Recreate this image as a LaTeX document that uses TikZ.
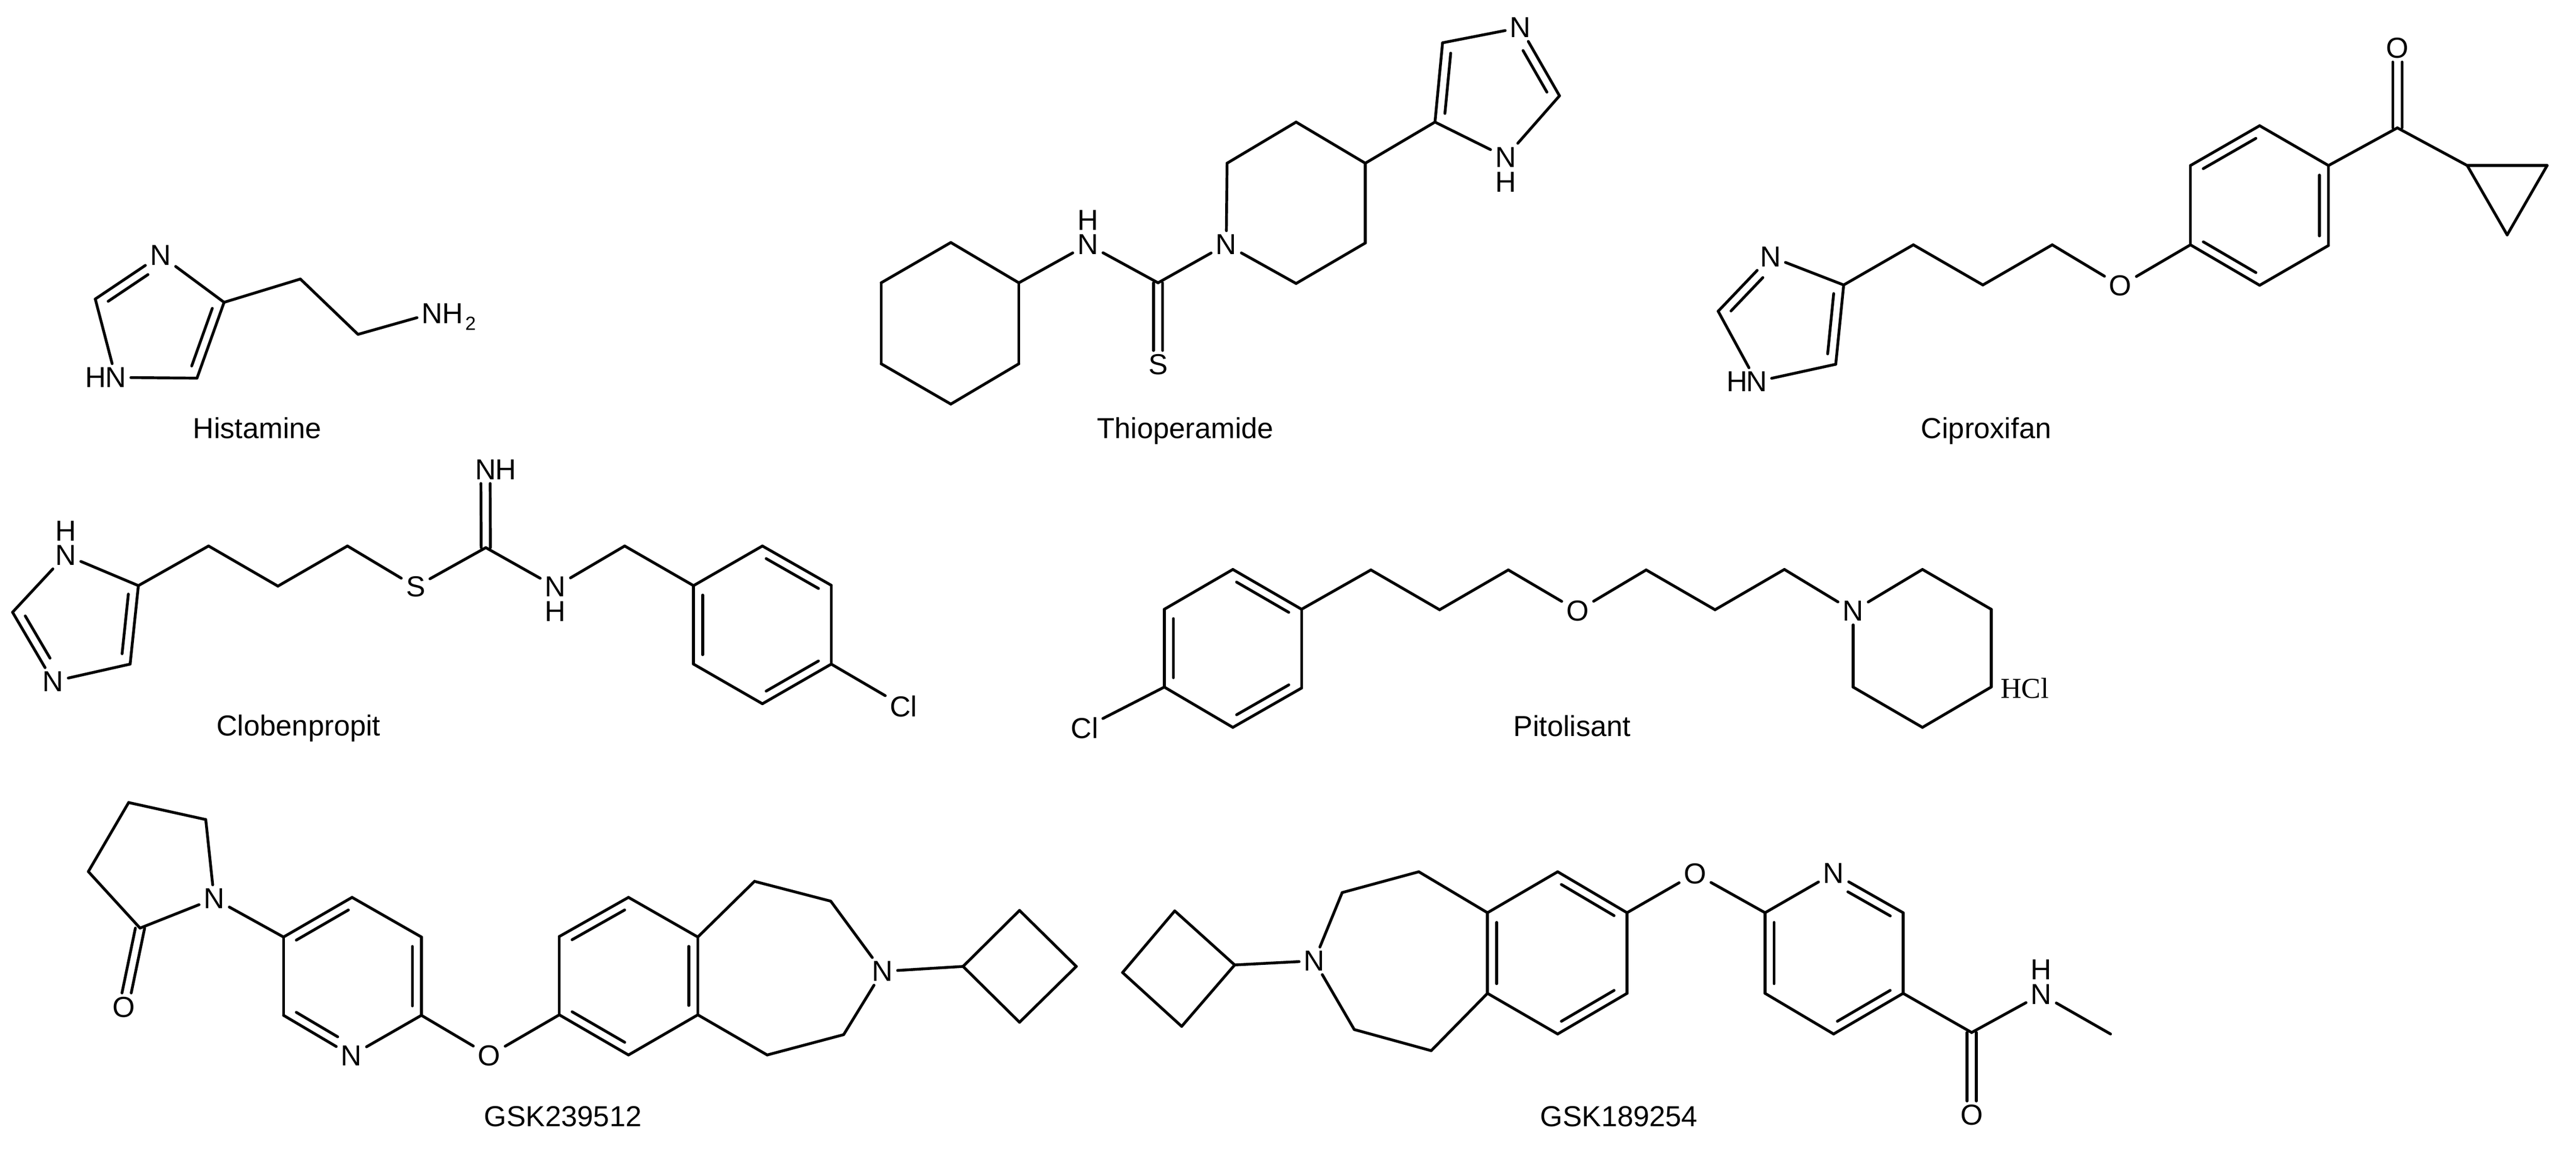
\documentclass[tikz,border=0pt]{standalone}
\usepackage{fontspec}
\setmainfont{Liberation Sans}
\newfontfamily\saltfont{Liberation Serif}
\usetikzlibrary{calc}
\tikzset{
  atom/.style={inner xsep=2pt,inner ysep=1.5pt,font=\fontsize{17.5}{20}\selectfont},
  hyd/.style={inner sep=0pt,font=\fontsize{17.5}{20}\selectfont},
  sub/.style={inner sep=0pt,font=\fontsize{11.5}{13}\selectfont},
  drug/.style={inner sep=0pt,anchor=base,font=\fontsize{17.5}{20}\selectfont},
  salt/.style={inner sep=0pt,font=\saltfont\fontsize{17.5}{20}\selectfont}
}
% second line of a double bond, on the inner side of the ring
\newcommand{\dbond}[4][.12]{\draw ($(#2)!#1!(#3)!#4pt!90:(#3)$) -- ($(#3)!.12!(#2)!#4pt!-90:(#2)$);}
% double bond with two equal lines
\newcommand{\twobond}[2]{%
  \draw[transform canvas={xshift=2.8pt}] (#1) to (#2);
  \draw[transform canvas={xshift=-2.8pt}] (#1) to (#2);}
\begin{document}
\begin{tikzpicture}[x=1pt,y=-1pt,line width=1.7pt,line cap=round]
  \useasboundingbox (0,0) rectangle (1560,697.9);
  % Histamine
  \draw
    (97.2,154.5) node[atom] (hn1){N}
    (57.7,181) coordinate (hc2)
    (70.1,228.5) node[atom] (hn3){N}
    (58,228.5) node[hyd] (hh3){H}
    (119.3,228.9) coordinate (hc5)
    (135.7,183) coordinate (hc4)
    (181.9,168.9) coordinate (hca)
    (216.8,202.4) coordinate (hcb)
    (261.7,189.7) node[atom] (hn4){N}
    (274.3,189.7) node[hyd] (hh4){H}
    (285,195.7) node[sub] (hsub){2}
    (155.8,265.2) node[drug] (histamine){Histamine};
  \begin{scope}[-]
    \draw (hn1) to (hc2);
    \draw (hc2) to (hn3);
    \draw (hn3) to (hc5);
    \draw (hc5) to (hc4);
    \draw (hc4) to (hn1);
    \draw (hc4) to (hca);
    \draw (hca) to (hcb);
    \draw (hcb) to (hn4);
    \dbond[.27]{hn1}{hc2}{5.5}
    \dbond{hc5}{hc4}{5.5}
  \end{scope}
  % Thioperamide
  \draw
    (920.7,16.7) node[atom] (tn1){N}
    (873.6,25.9) coordinate (tc1)
    (869,73.9) coordinate (tc2)
    (911.8,95.1) node[atom] (tn2){N}
    (911.8,110.2) node[hyd] (th2){H}
    (944.4,58) coordinate (tc3)
    (826.8,98.8) coordinate (tp1)
    (784.9,73.9) coordinate (tp2)
    (743.1,98.8) coordinate (tp3)
    (742.6,148) node[atom] (tn3){N}
    (784.9,171.6) coordinate (tp4)
    (826.8,147.1) coordinate (tp5)
    (701.3,171.2) coordinate (tcs)
    (701.3,220.7) node[atom] (ts){S}
    (658.8,148) node[atom] (tn4){N}
    (658.8,133.2) node[hyd] (th4){H}
    (617,171.2) coordinate (tx1)
    (575.8,146.8) coordinate (tx2)
    (533.6,171.2) coordinate (tx3)
    (533.6,220.2) coordinate (tx4)
    (575.8,244.6) coordinate (tx5)
    (617,220.2) coordinate (tx6)
    (717.8,265.2) node[drug] (thioperamide){Thioperamide};
  \begin{scope}[-]
    \draw (tn1) to (tc1);
    \draw (tc1) to (tc2);
    \draw (tc2) to (tn2);
    \draw (tn2) to (tc3);
    \draw (tc3) to (tn1);
    \draw (tc2) to (tp1);
    \draw (tp1) to (tp2);
    \draw (tp2) to (tp3);
    \draw (tp3) to (tn3);
    \draw (tn3) to (tp4);
    \draw (tp4) to (tp5);
    \draw (tp5) to (tp1);
    \draw (tn3) to (tcs);
    \draw (tcs) to (tn4);
    \draw (tn4) to (tx1);
    \draw (tx1) to (tx2);
    \draw (tx2) to (tx3);
    \draw (tx3) to (tx4);
    \draw (tx4) to (tx5);
    \draw (tx5) to (tx6);
    \draw (tx6) to (tx1);
    \twobond{tcs}{ts}
    \dbond{tc1}{tc2}{5.5}
    \dbond[.27]{tn1}{tc3}{-5.5}
  \end{scope}
  % Ciproxifan
  \draw
    (1072.1,155.3) node[atom] (cn1){N}
    (1040.5,188.4) coordinate (cc1)
    (1063.7,231) node[atom] (cn2){N}
    (1052,231) node[hyd] (ch2){H}
    (1111.7,220.5) coordinate (cc2)
    (1116.5,172.5) coordinate (cc3)
    (1158.7,148.2) coordinate (cc4)
    (1200.8,172.5) coordinate (cc5)
    (1242.8,148.2) coordinate (cc6)
    (1284.1,173) node[atom] (co1){O}
    (1326.5,148.2) coordinate (cb1)
    (1326.5,100.2) coordinate (cb2)
    (1368.4,76.1) coordinate (cb3)
    (1410.1,100.2) coordinate (cb4)
    (1410.1,148.6) coordinate (cb5)
    (1368.4,172.7) coordinate (cb6)
    (1451.8,77.4) coordinate (cco)
    (1451.8,29) node[atom] (co2){O}
    (1494.1,100.2) coordinate (cp1)
    (1542.5,100.2) coordinate (cp2)
    (1518.3,142.2) coordinate (cp3)
    (1202.8,265.2) node[drug] (ciproxifan){Ciproxifan};
  \begin{scope}[-]
    \draw (cn1) to (cc1);
    \draw (cc1) to (cn2);
    \draw (cn2) to (cc2);
    \draw (cc2) to (cc3);
    \draw (cc3) to (cn1);
    \draw (cc3) to (cc4);
    \draw (cc4) to (cc5);
    \draw (cc5) to (cc6);
    \draw (cc6) to (co1);
    \draw (co1) to (cb1);
    \draw (cb1) to (cb2);
    \draw (cb2) to (cb3);
    \draw (cb3) to (cb4);
    \draw (cb4) to (cb5);
    \draw (cb5) to (cb6);
    \draw (cb6) to (cb1);
    \draw (cb4) to (cco);
    \draw (cco) to (cp1);
    \draw (cp1) to (cp2);
    \draw (cp2) to (cp3);
    \draw (cp3) to (cp1);
    \twobond{cco}{co2}
    \dbond[.27]{cn1}{cc1}{5.5}
    \dbond{cc2}{cc3}{5.5}
    \dbond{cb3}{cb2}{5.5}
    \dbond{cb1}{cb6}{5.5}
    \dbond{cb5}{cb4}{5.5}
  \end{scope}
  % Clobenpropit
  \draw
    (39.8,336) node[atom] (bn1){N}
    (39.8,321.3) node[hyd] (bh1){H}
    (83.8,354.5) coordinate (bc1)
    (78.8,402) coordinate (bc2)
    (32.2,412.5) node[atom] (bn2){N}
    (7.6,370.6) coordinate (bc3)
    (126.3,330.5) coordinate (bc4)
    (168.3,354.8) coordinate (bc5)
    (210.4,330.5) coordinate (bc6)
    (251.7,355.2) node[atom] (bs){S}
    (294.2,331.5) coordinate (bcn)
    (294,284.3) node[atom] (bn3){N}
    (306.4,284.3) node[hyd] (bh3){H}
    (336.3,355.2) node[atom] (bn4){N}
    (336.3,370) node[hyd] (bh4){H}
    (378.3,330.5) coordinate (bc7)
    (420,354.5) coordinate (br1)
    (461.7,330.5) coordinate (br2)
    (503.4,354.3) coordinate (br3)
    (503.4,402) coordinate (br4)
    (461.7,426) coordinate (br5)
    (420,402) coordinate (br6)
    (547.2,427.6) node[atom] (bcl){Cl}
    (180.8,445.5) node[drug] (clobenpropit){Clobenpropit};
  \begin{scope}[-]
    \draw (bn1) to (bc1);
    \draw (bc1) to (bc2);
    \draw (bc2) to (bn2);
    \draw (bn2) to (bc3);
    \draw (bc3) to (bn1);
    \draw (bc1) to (bc4);
    \draw (bc4) to (bc5);
    \draw (bc5) to (bc6);
    \draw (bc6) to (bs);
    \draw (bs) to (bcn);
    \draw (bcn) to (bn4);
    \draw (bn4) to (bc7);
    \draw (bc7) to (br1);
    \draw (br1) to (br2);
    \draw (br2) to (br3);
    \draw (br3) to (br4);
    \draw (br4) to (br5);
    \draw (br5) to (br6);
    \draw (br6) to (br1);
    \draw (br4) to (bcl);
    \twobond{bcn}{bn3}
    \dbond[.27]{bn2}{bc3}{-5.5}
    \dbond{bc2}{bc1}{5.5}
    \dbond{br1}{br6}{5.5}
    \dbond{br5}{br4}{5.5}
    \dbond{br3}{br2}{5.5}
  \end{scope}
  % Pitolisant
  \draw
    (746.6,344.7) coordinate (pr1)
    (788.2,368.8) coordinate (pr2)
    (788.2,416.5) coordinate (pr3)
    (746.6,440.3) coordinate (pr4)
    (705.1,415.9) coordinate (pr5)
    (705.1,368.8) coordinate (pr6)
    (656.8,440.6) node[atom] (pcl){Cl}
    (830.2,345) coordinate (pc1)
    (871.8,369.1) coordinate (pc2)
    (913.4,345) coordinate (pc3)
    (955.4,369.7) node[atom] (po){O}
    (996.9,345) coordinate (pc4)
    (1038.6,369.1) coordinate (pc5)
    (1080.6,344.7) coordinate (pc6)
    (1122.2,369.9) node[atom] (pn){N}
    (1164.2,344.7) coordinate (pp1)
    (1205.8,368.8) coordinate (pp2)
    (1205.8,415.9) coordinate (pp3)
    (1164.2,440.3) coordinate (pp4)
    (1122.2,415.9) coordinate (pp5)
    (1226.1,416.5) node[salt] (phcl){HCl}
    (952.1,445.7) node[drug] (pitolisant){Pitolisant};
  \begin{scope}[-]
    \draw (pr1) to (pr2);
    \draw (pr2) to (pr3);
    \draw (pr3) to (pr4);
    \draw (pr4) to (pr5);
    \draw (pr5) to (pr6);
    \draw (pr6) to (pr1);
    \draw (pr5) to (pcl);
    \draw (pr2) to (pc1);
    \draw (pc1) to (pc2);
    \draw (pc2) to (pc3);
    \draw (pc3) to (po);
    \draw (po) to (pc4);
    \draw (pc4) to (pc5);
    \draw (pc5) to (pc6);
    \draw (pc6) to (pn);
    \draw (pn) to (pp1);
    \draw (pp1) to (pp2);
    \draw (pp2) to (pp3);
    \draw (pp3) to (pp4);
    \draw (pp4) to (pp5);
    \draw (pp5) to (pn);
    \dbond{pr6}{pr5}{5.5}
    \dbond{pr4}{pr3}{5.5}
    \dbond{pr2}{pr1}{5.5}
  \end{scope}
  % GSK239512
  \draw
    (77.9,485.8) coordinate (ga1)
    (124.6,496.1) coordinate (ga2)
    (129.7,544) node[atom] (gan){N}
    (84.8,561.8) coordinate (ga3)
    (53.5,527.6) coordinate (ga4)
    (74.9,609.6) node[atom] (gao){O}
    (171.7,567.2) coordinate (gp1)
    (213.2,543.2) coordinate (gp2)
    (255.2,567.2) coordinate (gp3)
    (255.2,614.6) coordinate (gp4)
    (212.8,638.9) node[atom] (gpn){N}
    (171.7,614.6) coordinate (gp5)
    (296.3,638.9) node[atom] (go){O}
    (338.7,614.3) coordinate (gb1)
    (338.7,566.9) coordinate (gb2)
    (380.6,543.2) coordinate (gb3)
    (422.6,567.2) coordinate (gb4)
    (422.6,614.3) coordinate (gb5)
    (380.6,638.6) coordinate (gb6)
    (456.9,533.5) coordinate (gz1)
    (503.1,545.5) coordinate (gz2)
    (534.4,588) node[atom] (gzn){N}
    (510.9,626.3) coordinate (gz3)
    (464.6,638.6) coordinate (gz4)
    (583.2,585) coordinate (gq1)
    (617.4,551.1) coordinate (gq2)
    (651.8,585) coordinate (gq3)
    (617.4,618.8) coordinate (gq4)
    (340.9,682) node[drug] (gsktwo){GSK239512};
  \begin{scope}[-]
    \draw (ga1) to (ga2);
    \draw (ga2) to (gan);
    \draw (gan) to (ga3);
    \draw (ga3) to (ga4);
    \draw (ga4) to (ga1);
    \draw (gan) to (gp1);
    \draw (gp1) to (gp2);
    \draw (gp2) to (gp3);
    \draw (gp3) to (gp4);
    \draw (gp4) to (gpn);
    \draw (gpn) to (gp5);
    \draw (gp5) to (gp1);
    \draw (gp4) to (go);
    \draw (go) to (gb1);
    \draw (gb1) to (gb2);
    \draw (gb2) to (gb3);
    \draw (gb3) to (gb4);
    \draw (gb4) to (gb5);
    \draw (gb5) to (gb6);
    \draw (gb6) to (gb1);
    \draw (gb4) to (gz1);
    \draw (gz1) to (gz2);
    \draw (gz2) to (gzn);
    \draw (gzn) to (gz3);
    \draw (gz3) to (gz4);
    \draw (gz4) to (gb5);
    \draw (gzn) to (gq1);
    \draw (gq1) to (gq2);
    \draw (gq2) to (gq3);
    \draw (gq3) to (gq4);
    \draw (gq4) to (gq1);
    \twobond{ga3}{gao}
    \dbond{gp2}{gp1}{5.5}
    \dbond{gp4}{gp3}{5.5}
    \dbond[.27]{gpn}{gp5}{-5.5}
    \dbond{gb3}{gb2}{5.5}
    \dbond{gb5}{gb4}{5.5}
    \dbond{gb1}{gb6}{5.5}
  \end{scope}
  % GSK189254
  \draw
    (711.4,551.4) coordinate (kq1)
    (747.7,584.1) coordinate (kq2)
    (715.6,621.3) coordinate (kq3)
    (679.8,588.7) coordinate (kq4)
    (795.9,581.6) node[atom] (kzn){N}
    (812.8,540.3) coordinate (kz1)
    (859.2,527.7) coordinate (kz2)
    (866.7,636) coordinate (kz3)
    (820.1,623.2) coordinate (kz4)
    (900.8,552.5) coordinate (kb1)
    (943.3,527.7) coordinate (kb2)
    (985.3,552.5) coordinate (kb3)
    (985.3,601.3) coordinate (kb4)
    (943.3,625.9) coordinate (kb5)
    (900.8,601.3) coordinate (kb6)
    (1026.5,528.8) node[atom] (ko1){O}
    (1068.9,552.5) coordinate (kp1)
    (1110.4,528.6) node[atom] (kpn){N}
    (1152.5,552.5) coordinate (kp2)
    (1152.5,601.3) coordinate (kp3)
    (1110.4,625.9) coordinate (kp4)
    (1068.9,601.3) coordinate (kp5)
    (1194,625) coordinate (kco)
    (1194,675) node[atom] (ko2){O}
    (1236.1,601.9) node[atom] (knh){N}
    (1236.1,587) node[hyd] (kh){H}
    (1278.1,625.9) coordinate (kme)
    (980.4,682) node[drug] (gskone){GSK189254};
  \begin{scope}[-]
    \draw (kq1) to (kq2);
    \draw (kq2) to (kq3);
    \draw (kq3) to (kq4);
    \draw (kq4) to (kq1);
    \draw (kq2) to (kzn);
    \draw (kzn) to (kz1);
    \draw (kz1) to (kz2);
    \draw (kz2) to (kb1);
    \draw (kzn) to (kz4);
    \draw (kz4) to (kz3);
    \draw (kz3) to (kb6);
    \draw (kb1) to (kb2);
    \draw (kb2) to (kb3);
    \draw (kb3) to (kb4);
    \draw (kb4) to (kb5);
    \draw (kb5) to (kb6);
    \draw (kb6) to (kb1);
    \draw (kb3) to (ko1);
    \draw (ko1) to (kp1);
    \draw (kp1) to (kpn);
    \draw (kpn) to (kp2);
    \draw (kp2) to (kp3);
    \draw (kp3) to (kp4);
    \draw (kp4) to (kp5);
    \draw (kp5) to (kp1);
    \draw (kp3) to (kco);
    \draw (kco) to (knh);
    \draw (knh) to (kme);
    \twobond{kco}{ko2}
    \dbond{kb3}{kb2}{5.5}
    \dbond{kb1}{kb6}{5.5}
    \dbond{kb5}{kb4}{5.5}
    \dbond[.27]{kpn}{kp2}{-5.5}
    \dbond{kp1}{kp5}{5.5}
    \dbond{kp4}{kp3}{5.5}
  \end{scope}
\end{tikzpicture}
\end{document}
